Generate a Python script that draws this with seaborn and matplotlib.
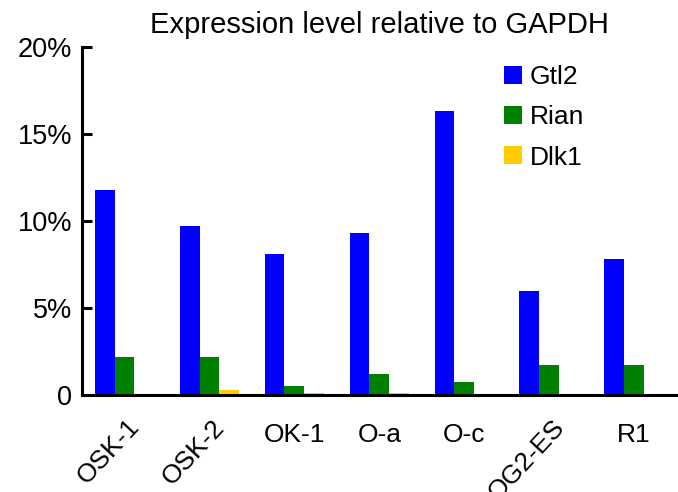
import seaborn as sns
import matplotlib.pyplot as plt
import matplotlib.transforms as mtransforms
import pandas as pd

samples = ["OSK-1", "OSK-2", "OK-1", "O-a", "O-c", "OG2-ES", "R1"]
gtl2 = [11.8, 9.7, 8.1, 9.3, 16.3, 6.0, 7.8]
rian = [2.2, 2.2, 0.5, 1.2, 0.75, 1.7, 1.7]
dlk1 = [0.0, 0.3, 0.14, 0.14, 0.0, 0.0, 0.0]
genes = ["Gtl2", "Rian", "Dlk1"]
colors = ["#0000FF", "#008000", "#FFCC00"]
rotated = ["OSK-1", "OSK-2", "OG2-ES"]

df = pd.DataFrame({"sample": samples * 3,
                   "gene": ["Gtl2"] * 7 + ["Rian"] * 7 + ["Dlk1"] * 7,
                   "value": [v / 100 for v in gtl2 + rian + dlk1]})

sns.set_style("white")
plt.rcParams["font.family"] = ["Liberation Sans", "DejaVu Sans"]
plt.rcParams["text.color"] = "black"
plt.rcParams["xtick.color"] = "black"
plt.rcParams["ytick.color"] = "black"

fig = plt.figure(figsize=(6.78, 4.92), dpi=100)
ax = fig.add_axes([0.121, 0.197, 0.877, 0.708])
sns.barplot(data=df, x="sample", y="value", hue="gene", hue_order=genes,
            palette=colors, width=0.7, gap=0, saturation=1, linewidth=0,
            ax=ax)

ax.set_xlim(-0.5, 6.5)
ax.set_ylim(0, 0.20)
ax.set_yticks([0, 0.05, 0.10, 0.15, 0.20])
ax.set_yticklabels(["0", "5%", "10%", "15%", "20%"], fontsize=19.5)
ax.set_xlabel("")
ax.set_ylabel("")
ax.set_title("Expression level relative to GAPDH", fontsize=21, pad=10)

for s in ["top", "right"]:
    ax.spines[s].set_visible(False)
for s in ["left", "bottom"]:
    ax.spines[s].set_linewidth(2.2)
    ax.spines[s].set_color("black")

ax.set_xticks([i + 0.5 for i in range(-1, 7)], minor=True)
ax.tick_params(axis="x", which="major", length=0, pad=20, labelsize=19)
ax.tick_params(axis="x", which="minor", direction="in", length=7, width=2.2)
ax.tick_params(axis="y", direction="in", length=7, width=2.2, pad=7, left=True)

shift = mtransforms.ScaledTranslation(0.20, 0.08, fig.dpi_scale_trans)
for lab in ax.get_xticklabels():
    if lab.get_text() in rotated:
        lab.set_rotation(47)
        lab.set_ha("right")
        lab.set_va("top")
        lab.set_transform(lab.get_transform() + shift)

ax.legend(frameon=False, fontsize=19, loc="upper left",
          bbox_to_anchor=(0.743, 0.868), bbox_transform=fig.transFigure,
          borderpad=0, borderaxespad=0, handlelength=0.68, handleheight=0.68,
          handletextpad=0.3, labelspacing=0.62)

fig.savefig("out.png", dpi=100)
